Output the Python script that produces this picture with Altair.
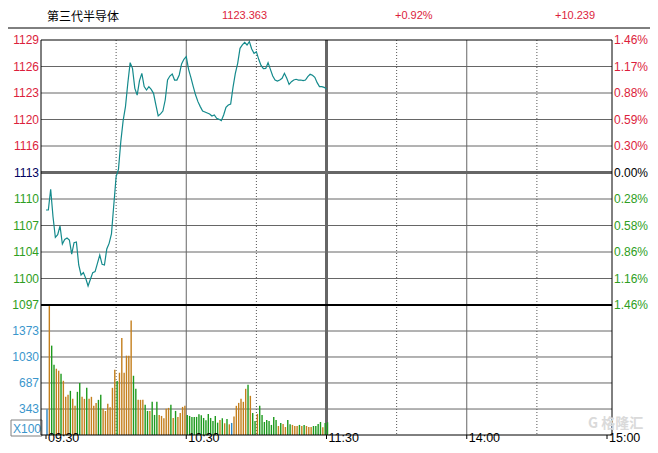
import altair as alt
import pandas as pd

# ---------------- data ----------------
prices = [
    1108.52, 1108.52, 1111.06, 1107.70, 1105.17, 1105.50, 1106.56, 1104.35, 1104.92, 1105.09,
    1104.84, 1103.12, 1104.51, 1104.60, 1101.78, 1100.55, 1100.84, 1100.14, 1099.20, 1100.02,
    1100.84, 1100.96, 1101.98, 1103.00, 1101.86, 1101.78, 1103.74, 1104.43, 1105.58, 1109.13,
    1112.61, 1113.51, 1116.90, 1119.48, 1121.20, 1124.06, 1126.59, 1125.89, 1123.44, 1122.62,
    1124.38, 1125.28, 1123.65, 1123.24, 1123.65, 1123.32, 1122.83, 1121.40, 1120.05, 1120.30,
    1120.66, 1122.01, 1124.46, 1124.95, 1125.20, 1124.46, 1124.46, 1125.08, 1126.43, 1127.00,
    1127.33, 1125.77, 1124.75, 1123.65, 1122.62, 1121.81, 1121.20, 1120.66, 1120.54, 1120.42,
    1120.30, 1120.05, 1120.17, 1119.76, 1119.64, 1119.48, 1120.17, 1121.11, 1121.40, 1121.52,
    1123.56, 1125.28, 1126.51, 1128.35, 1128.76, 1129.08, 1128.76, 1129.17, 1128.27, 1127.73,
    1127.94, 1127.00, 1126.26, 1125.85, 1125.89, 1126.59, 1125.77, 1124.95, 1124.46, 1124.34,
    1124.46, 1124.67, 1125.28, 1124.67, 1123.93, 1124.26, 1124.46, 1124.55, 1124.46, 1124.46,
    1124.38, 1124.46, 1124.87, 1125.16, 1125.04, 1124.79, 1124.14, 1123.65, 1123.65, 1123.56,
    1123.36,
]
volumes = [
    340, 1702, 1180, 928, 875, 849, 809, 716, 504, 530,
    583, 477, 385, 570, 685, 504, 477, 623, 477, 504,
    385, 424, 464, 530, 345, 318, 411, 367, 623, 862,
    712, 822, 1282, 822, 1048, 1048, 1512, 782, 610, 464,
    464, 464, 398, 318, 318, 438, 265, 438, 265, 252,
    221, 345, 358, 398, 225, 318, 239, 292, 371, 385,
    265, 252, 239, 239, 239, 274, 261, 225, 195, 278,
    225, 186, 252, 163, 199, 221, 155, 212, 141, 159,
    243, 385, 424, 477, 438, 610, 663, 517, 292, 186,
    278, 385, 265, 172, 199, 186, 133, 239, 199, 119,
    159, 146, 106, 199, 141, 133, 119, 119, 133, 119,
    133, 119, 106, 106, 119, 119, 146, 172, 102, 159,
    168,
]
vol_kind = list(
    "boggoogooo" "googgoogoo" "ooggoooooo" "gooooooggo" "ooggogggoo"
    "ooogogoooo" "gggggggggg" "ggggogogob" "oooooogogg" "oggggggggo"
    "googgooogo" "goooggggog" "g"
)
price_grid = [1129.37, 1126.12, 1122.87, 1119.62, 1116.37, 1113.12,
              1109.87, 1106.62, 1103.37, 1100.12, 1096.87]
left_labels = ["1129", "1126", "1123", "1120", "1116", "1113",
               "1110", "1107", "1104", "1100", "1097"]
right_labels = ["1.46%", "1.17%", "0.88%", "0.59%", "0.30%", "0.00%",
                "0.28%", "0.58%", "0.86%", "1.16%", "1.46%"]
vol_grid = [343, 687, 1030, 1373]
vol_labels = ["343", "687", "1030", "1373"]
vol_max = 1716.5
time_labels = ["09:30", "10:30", "11:30", "14:00", "15:00"]
time_pos = [0, 60, 120, 180, 240]
solid_v = [60, 180]
thick_v = [120]
dotted_v = [30, 90, 150, 210]
header = ["第三代半导体", "1123.363", "+0.92%", "+10.239"]
unit_label = "X100"
watermark = "格隆汇"

# ---------------- styling ----------------
W, H, PH = 571, 395, 265
FONT = "Liberation Sans"
CJK = "Noto Sans CJK SC"
RED = "#DC1E3C"
GRN = "#2E9E22"
NAVY = "#000060"
BLUE = "#3A96CC"
GRID = "#666666"
TEAL = "#148A8C"

xs = alt.Scale(domain=[0, 240], range=[0, W])
yp = alt.Scale(domain=[price_grid[-1], price_grid[0]], range=[PH, 0])
yv = alt.Scale(domain=[0, vol_max], range=[H, PH])

one = pd.DataFrame({"a": [0]})
n = len(prices)
df_line = pd.DataFrame({"m": list(range(n)), "p": prices})
df_vol = pd.DataFrame({"m": list(range(len(volumes))), "v": volumes, "k": vol_kind})

left_colors = [RED] * 5 + [NAVY] + [GRN] * 5
right_colors = [RED] * 5 + ["#000000"] + [GRN] * 5
df_left = pd.DataFrame({"v": price_grid, "t": left_labels, "c": left_colors})
df_right = pd.DataFrame({"v": price_grid, "t": right_labels, "c": right_colors})

inner = [price_grid[i] for i in (1, 2, 3, 4, 6, 7, 8, 9)]

layers = []

# horizontal price grid
layers.append(alt.Chart(pd.DataFrame({"v": inner})).mark_rule(color=GRID, strokeWidth=1).encode(
    y=alt.Y("v:Q", scale=yp, axis=None), x=alt.value(0), x2=alt.value(W)))
layers.append(alt.Chart(pd.DataFrame({"v": [price_grid[5]]})).mark_rule(color=GRID, strokeWidth=3).encode(
    y=alt.Y("v:Q", scale=yp, axis=None), x=alt.value(0), x2=alt.value(W)))
# volume grid
layers.append(alt.Chart(pd.DataFrame({"v": vol_grid})).mark_rule(color=GRID, strokeWidth=1).encode(
    y=alt.Y("v:Q", scale=yv, axis=None), x=alt.value(0), x2=alt.value(W)))
# vertical grid
layers.append(alt.Chart(pd.DataFrame({"m": solid_v})).mark_rule(color=GRID, strokeWidth=1).encode(
    x=alt.X("m:Q", scale=xs, axis=None), y=alt.value(0), y2=alt.value(H)))
layers.append(alt.Chart(pd.DataFrame({"m": thick_v})).mark_rule(color=GRID, strokeWidth=3).encode(
    x=alt.X("m:Q", scale=xs, axis=None), y=alt.value(0), y2=alt.value(H)))
layers.append(alt.Chart(pd.DataFrame({"m": dotted_v})).mark_rule(color="#555555", strokeWidth=1, strokeDash=[1, 2]).encode(
    x=alt.X("m:Q", scale=xs, axis=None), y=alt.value(0), y2=alt.value(H)))

# volume bars
layers.append(alt.Chart(df_vol).mark_bar(size=1.4, xOffset=1).encode(
    x=alt.X("m:Q", scale=xs, axis=None),
    y=alt.Y("v:Q", scale=yv, axis=None),
    color=alt.Color("k:N", scale=alt.Scale(domain=["o", "g", "b"],
                                           range=["#C47F1C", "#1D9A1D", "#2B86C5"]), legend=None)))

# price line
layers.append(alt.Chart(df_line).mark_line(color=TEAL, strokeWidth=1.2).encode(
    x=alt.X("m:Q", scale=xs, axis=None), y=alt.Y("p:Q", scale=yp, axis=None)))

# unit box
layers.append(alt.Chart(one).mark_rect(fill="white", stroke="#808080", strokeWidth=1).encode(
    x=alt.value(-30), x2=alt.value(1), y=alt.value(380), y2=alt.value(396)))
layers.append(alt.Chart(one).mark_text(font=FONT, fontSize=12, color=BLUE, align="center", baseline="middle").encode(
    x=alt.value(-14), y=alt.value(388.5), text=alt.value(unit_label)))

# plot frame and panel separator
layers.append(alt.Chart(one).mark_rect(fill="transparent", stroke="black", strokeWidth=1).encode(
    x=alt.value(0), x2=alt.value(W), y=alt.value(0), y2=alt.value(H)))
layers.append(alt.Chart(one).mark_rule(color="black", strokeWidth=2).encode(
    x=alt.value(0), x2=alt.value(W), y=alt.value(PH)))

# axis labels
layers.append(alt.Chart(df_left).mark_text(font=FONT, fontSize=12, align="right", baseline="middle").encode(
    x=alt.value(-2), y=alt.Y("v:Q", scale=yp, axis=None), text="t:N", color=alt.Color("c:N", scale=None)))
layers.append(alt.Chart(df_right).mark_text(font=FONT, fontSize=12, align="left", baseline="middle").encode(
    x=alt.value(W + 2), y=alt.Y("v:Q", scale=yp, axis=None), text="t:N", color=alt.Color("c:N", scale=None)))
layers.append(alt.Chart(pd.DataFrame({"v": vol_grid, "t": vol_labels})).mark_text(
    font=FONT, fontSize=12, align="right", baseline="middle", color=BLUE).encode(
    x=alt.value(-2), y=alt.Y("v:Q", scale=yv, axis=None), text="t:N"))

# watermark
layers.append(alt.Chart(one).mark_text(font=CJK, fontSize=14, fontWeight="bold", color="#DADADA",
                                       align="left", baseline="middle").encode(
    x=alt.value(547), y=alt.value(384), text=alt.value("G " + watermark)))

# time axis ticks and labels
layers.append(alt.Chart(pd.DataFrame({"m": time_pos})).mark_rule(color="black", strokeWidth=1).encode(
    x=alt.X("m:Q", scale=xs, axis=None), y=alt.value(H), y2=alt.value(H + 4)))
layers.append(alt.Chart(pd.DataFrame({"m": time_pos, "t": time_labels})).mark_text(
    font=FONT, fontSize=12.5, align="left", baseline="bottom", dx=2, color="black").encode(
    x=alt.X("m:Q", scale=xs, axis=None), y=alt.value(404.5), text="t:N"))

# header
layers.append(alt.Chart(one).mark_text(font=CJK, fontSize=12, color="black", align="left", baseline="middle").encode(
    x=alt.value(6), y=alt.value(-23.5), text=alt.value(header[0])))
for xv, txt in ((181, header[1]), (354, header[2]), (514, header[3])):
    layers.append(alt.Chart(one).mark_text(font=FONT, fontSize=11, color=RED, align="left", baseline="middle").encode(
        x=alt.value(xv), y=alt.value(-24), text=alt.value(txt)))

# header separator line
layers.append(alt.Chart(one).mark_rule(color="black", strokeWidth=1).encode(
    x=alt.value(-33), x2=alt.value(609), y=alt.value(-12)))

chart = alt.layer(*layers).resolve_scale(y="independent", color="independent").properties(
    width=W, height=H,
    autosize=alt.AutoSizeParams(type="none"),
    padding={"left": 33, "top": 32, "right": 38, "bottom": 10},
    background="white",
).configure_view(stroke=None)

chart.save("out.html", embed_options={"renderer": "svg", "actions": False})
